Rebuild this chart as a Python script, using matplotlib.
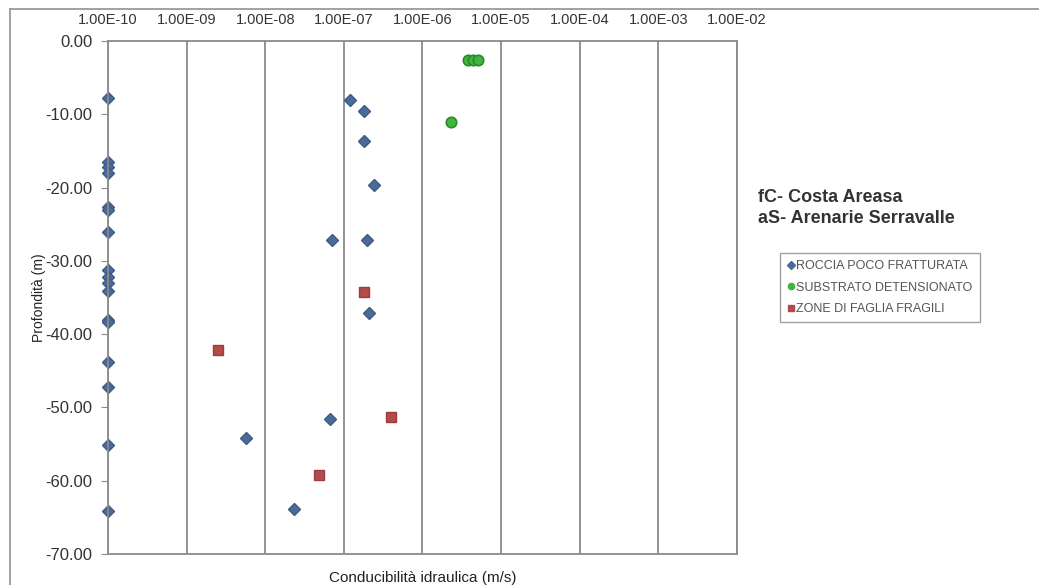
import numpy as np
import matplotlib
matplotlib.use("Agg")
import matplotlib.pyplot as plt
from matplotlib.lines import Line2D
from matplotlib.ticker import FixedLocator, FuncFormatter

plt.rcParams['font.family'] = ['Liberation Sans', 'DejaVu Sans']

# ROCCIA POCO FRATTURATA
roccia_k = [1e-10] * 17 + [1.2e-7, 1.83e-7, 1.8e-7, 2.42e-7, 7.1e-8, 1.99e-7,
                           2.09e-7, 5.65e-9, 6.67e-8, 2.34e-8]
roccia_z = [-7.8, -16.5, -17.2, -18.0, -22.6, -23.1, -26.0, -31.2, -32.2, -33.0,
            -34.1, -38.1, -38.3, -43.8, -47.2, -55.1, -64.2,
            -8.1, -9.5, -13.7, -19.6, -27.1, -27.1, -37.1, -54.2, -51.6, -63.8]

# SUBSTRATO DETENSIONATO
substrato_k = [3.84e-6, 4.4e-6, 5.14e-6, 2.29e-6]
substrato_z = [-2.6, -2.6, -2.6, -11.1]

# ZONE DI FAGLIA FRAGILI
faglia_k = [2.48e-9, 1.8e-7, 3.95e-7, 4.8e-8]
faglia_z = [-42.1, -34.3, -51.3, -59.2]

x_ticks = [1e-10, 1e-9, 1e-8, 1e-7, 1e-6, 1e-5, 1e-4, 1e-3, 1e-2]
y_ticks = [0, -10, -20, -30, -40, -50, -60, -70]

fig = plt.figure(figsize=(10.39, 5.85), dpi=100)
ax = fig.add_axes([0.1039, 0.053, 0.6054, 0.8769])

ax.set_xscale('log')
ax.set_xlim(1e-10, 1e-2)
ax.set_ylim(-70, 0)

ax.plot(roccia_k, roccia_z, 'D', color='#4a6a98', markersize=6.5,
        markeredgecolor='#3f5c86', clip_on=False, label='ROCCIA POCO FRATTURATA')
ax.plot(substrato_k, substrato_z, 'o', color='#3fb63f', markersize=7.5,
        markeredgecolor='#2a8a2a', markeredgewidth=1.2, clip_on=False,
        label='SUBSTRATO DETENSIONATO')
ax.plot(faglia_k, faglia_z, 's', color='#b44a4a', markersize=6.5,
        markeredgecolor='#9e3c3c', clip_on=False, label='ZONE DI FAGLIA FRAGILI')

# decade lines
ax.xaxis.set_major_locator(FixedLocator(x_ticks))
ax.xaxis.set_minor_locator(FixedLocator([]))
ax.grid(axis='x', which='major', color='#8a8a8a', linewidth=1.3)
ax.set_axisbelow(True)

ax.xaxis.tick_top()
ax.tick_params(axis='x', which='both', length=0, pad=10, labelsize=10.5, labelcolor='#333333')
ax.xaxis.set_major_formatter(FuncFormatter(lambda v, p: '1.00E-%02d' % round(-np.log10(v))))

ax.yaxis.set_major_locator(FixedLocator(y_ticks))
ax.yaxis.set_major_formatter(FuncFormatter(lambda v, p: '%.2f' % abs(v) if v == 0 else '%.2f' % v))
ax.tick_params(axis='y', length=5, color='#8a8a8a', pad=6, labelsize=12, labelcolor='#333333')

for s in ax.spines.values():
    s.set_color('#8a8a8a')
    s.set_linewidth(1.3)

ax.set_ylabel('Profondità (m)', fontsize=10, color='#222222', labelpad=0)
ax.xaxis.set_label_position('bottom')
ax.set_xlabel('Conducibilità idraulica (m/s)', fontsize=11, color='#222222', labelpad=12)

fig.text(0.7295, 0.644, 'fC- Costa Areasa\naS- Arenarie Serravalle', fontsize=13,
         fontweight='bold', color='#333333', va='center', ha='left', linespacing=1.3)

handles = [
    Line2D([], [], marker='D', color='#4a6a98', linestyle='none', markersize=3.8),
    Line2D([], [], marker='o', color='#3fb63f', linestyle='none', markersize=4.5),
    Line2D([], [], marker='s', color='#b44a4a', linestyle='none', markersize=4),
]
labels = ['ROCCIA POCO FRATTURATA', 'SUBSTRATO DETENSIONATO', 'ZONE DI FAGLIA FRAGILI']
leg = fig.legend(handles, labels, loc='upper left', bbox_to_anchor=(0.7505, 0.568),
                 fontsize=9, frameon=True, fancybox=False, handlelength=0.6,
                 handletextpad=0.1, borderpad=0.6, labelspacing=0.75, borderaxespad=0)
leg.get_frame().set_edgecolor('#8a8a8a')
leg.get_frame().set_linewidth(1.0)
for t in leg.get_texts():
    t.set_color('#555555')

# chart area border
fig.add_artist(Line2D([0.0096, 1.0], [0.9846, 0.9846], color='#9a9a9a', linewidth=1.3))
fig.add_artist(Line2D([0.0096, 0.0096], [0.0, 0.9846], color='#9a9a9a', linewidth=1.3))

fig.savefig('out.png', dpi=100)
